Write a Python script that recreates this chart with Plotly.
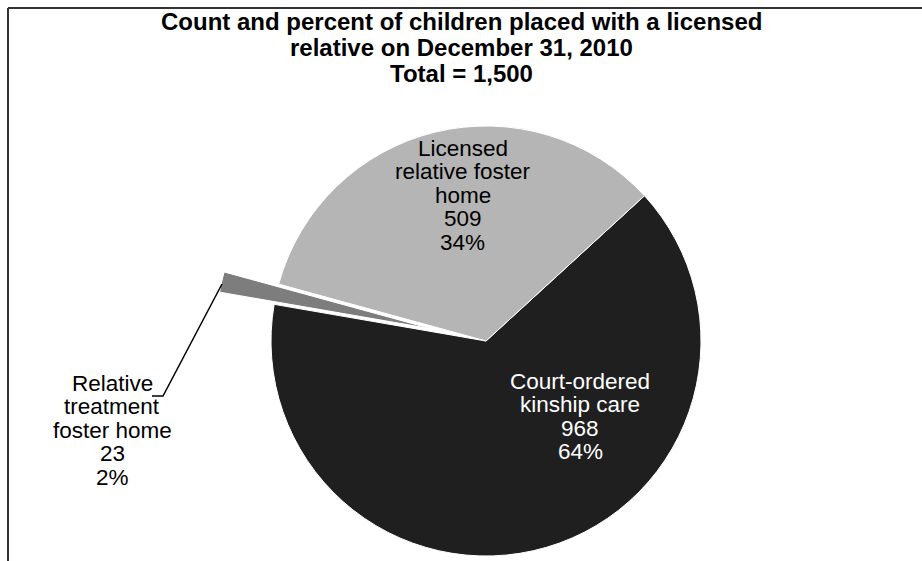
import math
import plotly.graph_objects as go

# Placement counts on December 31, 2010
categories = ["Court-ordered kinship care", "Relative treatment foster home", "Licensed relative foster home"]
label_lines = [["Court-ordered", "kinship care"],
               ["Relative", "treatment", "foster home"],
               ["Licensed", "relative foster", "home"]]
counts = [968, 23, 509]
percents = [64, 2, 34]
colors = ["#1f1f1f", "#7d7d7d", "#b5b5b5"]
title_lines = ["Count and percent of children placed with a licensed",
               "relative on December 31, 2010"]

total = sum(counts)
W, H = 922, 561

# pie geometry (pixels)
cx, cy, r = 486, 341, 215
start_deg = 47.5        # clockwise from 12 o'clock where the first slice begins
exploded = 1            # index of the pulled-out slice
pull_frac = 0.26


def domain(x0, y0, rad):
    return dict(x=[(x0 - rad) / W, (x0 + rad) / W],
                y=[1 - (y0 + rad) / H, 1 - (y0 - rad) / H])


# bisector angle of the exploded slice, used to offset its copy
before = sum(counts[:exploded])
mid = start_deg + 360 * (before + counts[exploded] / 2) / total
dx = pull_frac * r * math.sin(math.radians(mid))
dy = -pull_frac * r * math.cos(math.radians(mid))

clear = "rgba(0,0,0,0)"
main_colors = [c if i != exploded else clear for i, c in enumerate(colors)]
main_widths = [1 if i != exploded else 0 for i in range(len(counts))]
pulled_colors = [c if i == exploded else clear for i, c in enumerate(colors)]
pulled_widths = [1 if i == exploded else 0 for i in range(len(counts))]

fig = go.Figure()
fig.add_trace(go.Pie(
    labels=categories, values=counts, sort=False, direction="clockwise",
    rotation=start_deg, textinfo="none", hoverinfo="label+value+percent",
    marker=dict(colors=main_colors, line=dict(color="white", width=main_widths)),
    domain=domain(cx, cy, r), showlegend=False,
))
fig.add_trace(go.Pie(
    labels=categories, values=counts, sort=False, direction="clockwise",
    rotation=start_deg, textinfo="none", hoverinfo="skip",
    marker=dict(colors=pulled_colors, line=dict(color="white", width=pulled_widths)),
    domain=domain(cx + dx, cy + dy, r), showlegend=False,
))

font_family = "Liberation Sans, Arial, sans-serif"


def px(x, y):
    return x / W, 1 - y / H


def text_block(lines, x, y_first, step, size, color, bold=False):
    out = []
    for k, line in enumerate(lines):
        ax, ay = px(x, y_first + k * step)
        out.append(dict(
            x=ax, y=ay, xref="paper", yref="paper", xanchor="center", yanchor="middle",
            text=f"<b>{line}</b>" if bold else line, showarrow=False, align="center",
            font=dict(family=font_family, size=size, color=color),
        ))
    return out


# label anchor: (center x, first line y, color)
label_pos = {0: (580, 381, "white"), 1: (112, 383, "black"), 2: (463, 148, "black")}
annotations = []
for i, (lx, ly, col) in label_pos.items():
    lines = label_lines[i] + [f"{counts[i]:,}", f"{percents[i]}%"]
    annotations += text_block(lines, lx, ly, 23.5, 22.5, col)

annotations += text_block(title_lines + [f"Total = {total:,}"], 461, 22, 25.5, 24, "black", bold=True)

# leader line from the outside label to the exploded slice
lx0, ly0 = px(152, 396)
lx1, ly1 = px(163, 396)
lx2, ly2 = px(222, 284)
shapes = [
    dict(type="path", xref="paper", yref="paper",
         path=f"M {lx0} {ly0} L {lx1} {ly1} L {lx2} {ly2}",
         line=dict(color="black", width=1.5)),
    # chart frame (top and left edges)
    dict(type="line", xref="paper", yref="paper", x0=8 / W, x1=1, y0=1 - 8 / H, y1=1 - 8 / H,
         line=dict(color="#333333", width=2)),
    dict(type="line", xref="paper", yref="paper", x0=8 / W, x1=8 / W, y0=1 - 8 / H, y1=0,
         line=dict(color="#333333", width=2)),
]

fig.update_layout(
    width=W, height=H, margin=dict(l=0, r=0, t=0, b=0),
    paper_bgcolor="white", plot_bgcolor="white",
    annotations=annotations, shapes=shapes,
)

fig.write_html("out.html")
